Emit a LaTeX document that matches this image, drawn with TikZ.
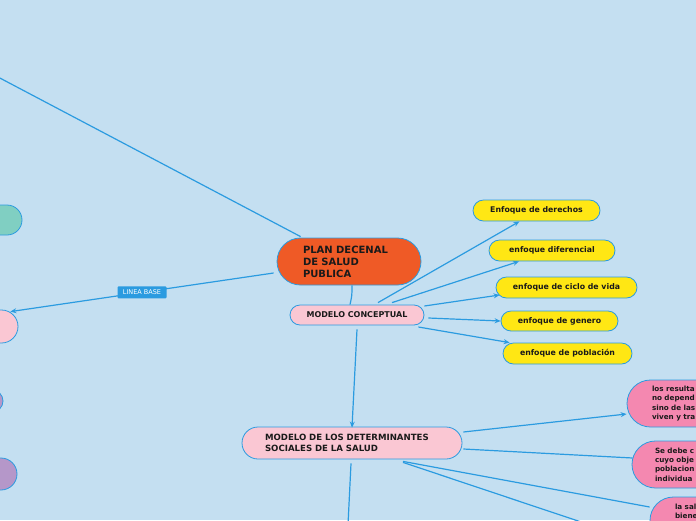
\documentclass[tikz,border=0pt]{standalone}
\usepackage{fontspec}
\setmainfont{DejaVu Sans}
\usetikzlibrary{arrows.meta}
\definecolor{bgc}{HTML}{C4DFF1}
\definecolor{edge}{HTML}{2B9BE0}
\definecolor{orangec}{HTML}{EF5A26}
\definecolor{lpink}{HTML}{FAC7D3}
\definecolor{yel}{HTML}{FFE714}
\definecolor{dpink}{HTML}{F488B0}
\definecolor{teal}{HTML}{80CFC2}
\definecolor{purp}{HTML}{B597C9}
\definecolor{txt}{HTML}{1A1A1A}
\tikzset{
  pill/.style={draw=edge, line width=0.8pt, rectangle, inner ysep=0pt, text=txt},
  ybox/.style={pill, fill=yel, minimum height=21pt, rounded corners=10.5pt, inner xsep=0pt,
    font=\fontsize{7.8}{9}\selectfont\bfseries},
  rbox/.style={pill, fill=dpink, minimum height=47pt, rounded corners=23.5pt, align=left,
    font=\fontsize{7.2}{9.3}\selectfont\bfseries},
  conn/.style={draw=edge, line width=1.2pt},
  arr/.style={conn, -{Stealth[length=6pt,width=5pt]}},
}
\begin{document}
\begin{tikzpicture}[x=1pt,y=-1pt]
\useasboundingbox (0,0) rectangle (696,520);
\clip (0,0) rectangle (696,520);
\fill[bgc] (0,0) rectangle (696,520);

% nodes
\node[pill, fill=orangec, minimum height=47pt, text width=92pt, inner xsep=26pt,
  rounded corners=23.5pt, align=left, font=\fontsize{10}{12}\selectfont\bfseries]
  (plan) at (349,261.5) {PLAN DECENAL\\DE SALUD\\PUBLICA};
\node[pill, fill=lpink, minimum width=134pt, minimum height=20pt, rounded corners=10pt,
  font=\fontsize{8}{9}\selectfont\bfseries] (mc) at (357,315) {MODELO CONCEPTUAL};

\node[ybox, minimum width=127pt] (d1) at (536.5,210.5) {Enfoque de derechos};
\node[ybox, minimum width=126pt] (d2) at (552,250.5) {enfoque diferencial};
\node[ybox, minimum width=141pt] (d3) at (566.5,287.5) {enfoque de ciclo de vida};
\node[ybox, minimum width=117pt, minimum height=20pt, rounded corners=10pt] (d4) at (559.5,321) {enfoque de genero};
\node[ybox, minimum width=129pt] (d5) at (567.5,353.5) {enfoque de población};

\node[pill, fill=lpink, minimum height=32pt, text width=174pt, inner xsep=23pt,
  rounded corners=16pt, align=left, font=\fontsize{8.6}{11}\selectfont\bfseries]
  (mds) at (352,443) {MODELO DE LOS DETERMINANTES\\SOCIALES DE LA SALUD};

\node[rbox, text width=60pt, inner xsep=25pt] (r1) at (682,403.5)
  {los resulta\\no depend\\sino de las\\viven y tra};
\node[rbox, text width=60pt, inner xsep=23pt] (r2) at (685,464.5)
  {Se debe c\\cuyo obje\\poblacion\\individua};
\node[rbox, text width=60pt, inner xsep=25pt] (r3) at (705,520.5)
  {la sal\\biene\\\phantom{x}\\\phantom{x}};

\node[pill, fill=teal, minimum width=80pt, minimum height=30pt, rounded corners=15pt] (l1) at (-18,220) {};
\node[pill, fill=lpink, minimum width=80pt, minimum height=33pt, rounded corners=16.5pt] (l2) at (-22,326.5) {};
\node[pill, fill=purp, minimum width=60pt, minimum height=22pt, rounded corners=11pt] (l3) at (-27,401) {};
\node[pill, fill=purp, minimum width=80pt, minimum height=32pt, rounded corners=16pt] (l4) at (-23,474) {};

\coordinate (ul) at (-40,57);
\coordinate (br) at (620,535);
\coordinate (bd) at (347,545);

% connectors
\draw[conn] ([xshift=3pt]plan.south) .. controls ([xshift=3pt,yshift=-10pt]plan.south) .. ([xshift=-7pt]mc.north);
\draw[arr] ([xshift=21pt,yshift=2pt]mc.north) -- ([xshift=-17pt]d1.south);
\draw[arr] ([xshift=35pt,yshift=2pt]mc.north) -- ([xshift=-33pt]d2.south);
\draw[arr] ([yshift=9pt]mc.east) -- ([xshift=4pt,yshift=-7.5pt]d3.west);
\draw[arr] ([xshift=4pt,yshift=-3pt]mc.east) -- (d4.west);
\draw[arr] ([xshift=-6pt,yshift=-12pt]mc.east) -- ([xshift=7pt]d5.north west);
\draw[arr] ([yshift=-4pt]mc.south) -- ([yshift=-1pt]mds.north);

\draw[arr] ([xshift=-3pt,yshift=-11.5pt]plan.west) -- node[midway, fill=edge, text=white,
  minimum width=49pt, minimum height=12pt, inner sep=0pt, rounded corners=1pt,
  font=\fontsize{6.5}{7}\selectfont] (lb) {LINEA BASE} ([xshift=-8pt,yshift=-2pt]l2.north east);
\draw[conn] ([xshift=24pt,yshift=1pt]plan.north west) -- (ul);

\draw[arr] ([xshift=1pt,yshift=11pt]mds.east) -- ([yshift=-10.5pt]r1.west);
\draw[conn] ([xshift=1pt,yshift=-6pt]mds.east) -- ([xshift=1pt,yshift=6.5pt]r2.west);
\draw[conn] ([xshift=51pt,yshift=-2pt]mds.south) -- ([yshift=13.5pt]r3.west);
\draw[conn] ([xshift=51pt,yshift=-3pt]mds.south) -- (br);
\draw[conn] ([xshift=-1pt,yshift=-4pt]mds.south) -- (bd);
\end{tikzpicture}
\end{document}
